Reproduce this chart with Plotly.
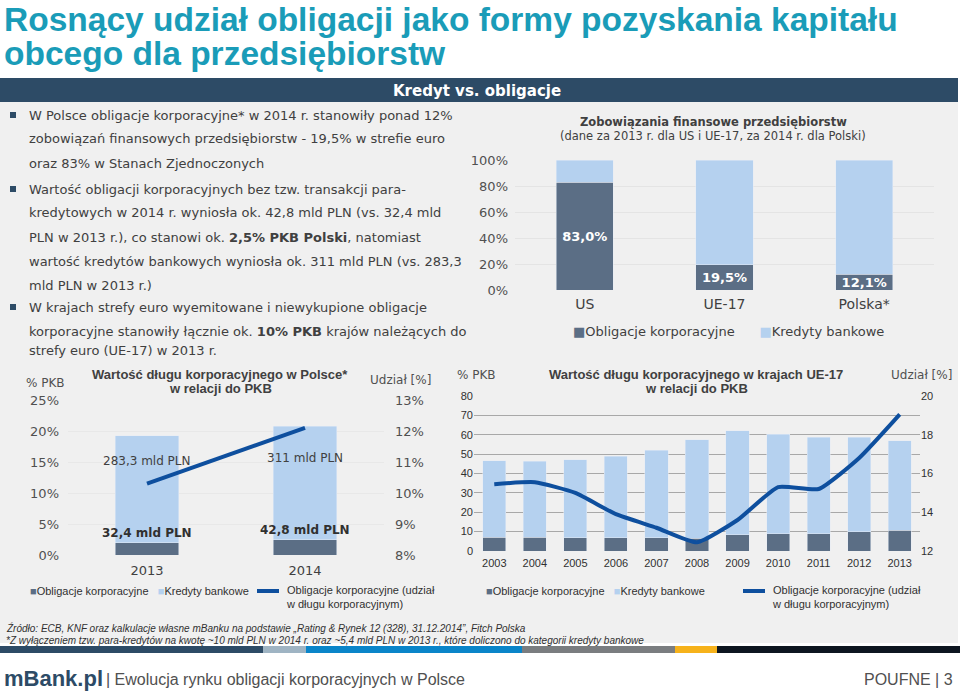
import plotly.graph_objects as go

W, H = 960, 694
def px(x): return x / W
def py(y): return 1 - y / H

# --- data ---
c1_cats = ["US", "UE-17", "Polska*"]
c1_bonds = [83.0, 19.5, 12.1]
c1_loans = [17.0, 80.5, 87.9]
c1_labels = ["83,0%", "19,5%", "12,1%"]

c2_years = ["2013", "2014"]
c2_bonds = [2.0, 2.5]
c2_loans = [17.2, 18.3]
c2_share = [10.3, 12.1]
c2_loan_labels = ["283,3 mld PLN", "311 mld PLN"]
c2_bond_labels = ["32,4 mld PLN", "42,8 mld PLN"]

c3_years = ["2003", "2004", "2005", "2006", "2007", "2008", "2009", "2010", "2011", "2012", "2013"]
c3_bonds = [7.0, 7.0, 6.8, 6.8, 6.8, 6.5, 8.3, 9.0, 8.8, 10.0, 10.8]
c3_total = [46.5, 46.3, 47.0, 49.0, 52.0, 57.5, 62.0, 60.3, 58.7, 58.8, 57.0]
c3_loans = [t - b for t, b in zip(c3_total, c3_bonds)]
c3_share = [15.45, 15.55, 15.0, 13.9, 13.2, 12.45, 13.6, 15.3, 15.2, 16.8, 19.05]

C_B = "#5b6e85"
C_L = "#b5d1ef"
C_LINE = "#0e4f9e"
FONT = "DejaVu Sans"
TF = "Liberation Sans"

fig = go.Figure()
fig.add_bar(x=c1_cats, y=c1_bonds, marker_color=C_B, text=c1_labels, textposition="inside",
            insidetextanchor="middle", constraintext="none", textfont=dict(color="white", size=13, family=FONT),
            texttemplate="<b>%{text}</b>", xaxis="x", yaxis="y", showlegend=False, width=0.41)
fig.add_bar(x=c1_cats, y=c1_loans, marker_color=C_L, xaxis="x", yaxis="y", showlegend=False, hoverinfo="skip", width=0.41)
fig.add_bar(x=c2_years, y=c2_bonds, marker_color=C_B, xaxis="x2", yaxis="y2", showlegend=False, width=0.4)
fig.add_bar(x=c2_years, y=c2_loans, marker_color=C_L, xaxis="x2", yaxis="y2", showlegend=False, width=0.4)
fig.add_scatter(x=c2_years, y=c2_share, mode="lines", line=dict(color=C_LINE, width=4),
                xaxis="x2", yaxis="y3", showlegend=False)
fig.add_bar(x=c3_years, y=c3_bonds, marker_color=C_B, xaxis="x3", yaxis="y4", showlegend=False, width=0.57)
fig.add_bar(x=c3_years, y=c3_loans, marker_color=C_L, xaxis="x3", yaxis="y4", showlegend=False, width=0.57)
fig.add_scatter(x=c3_years, y=c3_share, mode="lines", line=dict(color=C_LINE, width=4, shape="spline", smoothing=0.5),
                xaxis="x3", yaxis="y5", showlegend=False)

axcommon = dict(showline=False, zeroline=False, ticks="")
fig.update_layout(
    width=W, height=H, margin=dict(l=0, r=0, t=0, b=0, autoexpand=False), barmode="stack",
    uniformtext=dict(minsize=13, mode="show"),
    paper_bgcolor="white", plot_bgcolor="rgba(0,0,0,0)", font=dict(family=FONT, color="#404040"),
    xaxis=dict(type="category", categoryarray=c1_cats, range=[-0.5, 2.5], domain=[px(515), px(934)], anchor="y",
               showgrid=False, tickfont=dict(size=14, color="#404040"), ticklabelstandoff=4, **axcommon),
    yaxis=dict(domain=[py(290), py(160)], anchor="x", range=[0, 100], tickvals=[0, 20, 40, 60, 80, 100],
               ticktext=["0%", "20%", "40%", "60%", "80%", "100%"], ticklabelstandoff=6,
               gridcolor="#e4e4e4", tickfont=dict(size=13, color="#505050"), **axcommon),
    xaxis2=dict(type="category", categoryarray=c2_years, range=[-0.5, 1.5], domain=[px(68), px(384)], anchor="y2",
                showgrid=False, tickfont=dict(size=13, color="#404040"), ticklabelstandoff=6, **axcommon),
    yaxis2=dict(domain=[py(555), py(400)], anchor="x2", range=[0, 25], tickvals=[0, 5, 10, 15, 20, 25],
                ticktext=["0%", "5%", "10%", "15%", "20%", "25%"],
                gridcolor="#e8e8e8", tickfont=dict(size=13, color="#505050"), ticklabelstandoff=8, **axcommon),
    yaxis3=dict(overlaying="y2", side="right", range=[8, 13], tickvals=[8, 9, 10, 11, 12, 13],
                ticktext=["8%", "9%", "10%", "11%", "12%", "13%"], showgrid=False,
                anchor="x2", tickfont=dict(size=13, color="#505050"), ticklabelstandoff=10, **axcommon),
    xaxis3=dict(type="category", categoryarray=c3_years, range=[-0.5, 10.5], domain=[px(474), px(920)], anchor="y4",
                showgrid=False, tickfont=dict(size=11, color="#303030", family=TF), ticklabelstandoff=4, **axcommon),
    yaxis4=dict(domain=[py(551), py(396)], anchor="x3", range=[0, 80], dtick=10, gridcolor="#a8a8a8",
                tickfont=dict(size=11, color="#303030", family=TF), **axcommon),
    yaxis5=dict(overlaying="y4", side="right", range=[12, 20], dtick=2, showgrid=False, anchor="x3",
                tickfont=dict(size=11, color="#303030", family=TF), **axcommon),
)

shapes = []
ann = []
shapes.append(dict(type="rect", xref="paper", yref="paper", x0=0, x1=px(958), y0=py(643), y1=py(78),
                   fillcolor="#f0f0f0", line_width=0, layer="below"))
shapes.append(dict(type="rect", xref="paper", yref="paper", x0=0, x1=px(958), y0=py(102), y1=py(78),
                   fillcolor="#2d4b66", line_width=0, layer="below"))
ann.append(dict(x=px(477), y=py(91), text="<b>Kredyt vs. obligacje</b>", font=dict(size=15, color="white")))
ann.append(dict(x=px(2), y=py(19), xanchor="left", text="<b>Rosnący udział obligacji jako formy pozyskania kapitału</b>",
                font=dict(size=33.5, color="#1a9cb8", family=TF)))
ann.append(dict(x=px(2), y=py(53), xanchor="left", text="<b>obcego dla przedsiębiorstw</b>",
                font=dict(size=33.5, color="#1a9cb8", family=TF)))
lines = [
    (115, "W Polsce obligacje korporacyjne* w 2014 r. stanowiły ponad 12%", True),
    (139, "zobowiązań finansowych przedsiębiorstw - 19,5% w strefie euro", False),
    (163, "oraz 83% w Stanach Zjednoczonych", False),
    (189, "Wartość obligacji korporacyjnych bez tzw. transakcji para-", True),
    (213, "kredytowych w 2014 r. wyniosła ok. 42,8 mld PLN (vs. 32,4 mld", False),
    (237, "PLN w 2013 r.), co stanowi ok. <b>2,5% PKB Polski</b>, natomiast", False),
    (261, "wartość kredytów bankowych wyniosła ok. 311 mld PLN (vs. 283,3", False),
    (285, "mld PLN w 2013 r.)", False),
    (307, "W krajach strefy euro wyemitowane i niewykupione obligacje", True),
    (331, "korporacyjne stanowiły łącznie ok. <b>10% PKB</b> krajów należących do", False),
    (350, "strefy euro (UE-17) w 2013 r.", False),
]
for y, t, b in lines:
    ann.append(dict(x=px(27), y=py(y), xanchor="left", text=t, font=dict(size=13, color="#404040")))
    if b:
        shapes.append(dict(type="rect", xref="paper", yref="paper", x0=px(10), x1=px(16), y0=py(y + 3), y1=py(y - 3),
                           fillcolor="#2d4b66", line_width=0))
ann.append(dict(x=px(713), y=py(122), text="<b>Zobowiązania finansowe przedsiębiorstw</b>", font=dict(size=11.5, color="#404040")))
ann.append(dict(x=px(713), y=py(136), text="(dane za 2013 r. dla US i UE-17, za 2014 r. dla Polski)", font=dict(size=11.5, color="#404040")))
ann.append(dict(x=px(571), y=py(331), xanchor="left",
                text=f"<span style='color:{C_B}'>■</span>Obligacje korporacyjne      <span style='color:{C_L}'>■</span>Kredyty bankowe",
                font=dict(size=13, color="#404040")))
ann.append(dict(x=px(220), y=py(374), text="<b>Wartość długu korporacyjnego w Polsce*</b>", font=dict(size=13, color="#404040", family=TF)))
ann.append(dict(x=px(220), y=py(388), text="<b>w relacji do PKB</b>", font=dict(size=13, color="#404040", family=TF)))
ann.append(dict(x=px(45), y=py(383), text="% PKB", font=dict(size=12, color="#505050")))
ann.append(dict(x=px(400), y=py(380), text="Udział [%]", font=dict(size=12, color="#505050")))
for i, (y, t) in enumerate(zip([15.2, 15.6], c2_loan_labels)):
    ann.append(dict(x=i, y=y, xref="x2", yref="y2", text=t, font=dict(size=12, color="#404040")))
for i, (y, t) in enumerate(zip([3.5, 4.0], c2_bond_labels)):
    ann.append(dict(x=i, y=y, xref="x2", yref="y2", text=f"<b>{t}</b>", font=dict(size=12, color="#303030")))
ann.append(dict(x=px(696), y=py(374), text="<b>Wartość długu korporacyjnego w krajach UE-17</b>", font=dict(size=13, color="#404040", family=TF)))
ann.append(dict(x=px(696), y=py(388), text="<b>w relacji do PKB</b>", font=dict(size=13, color="#404040", family=TF)))
ann.append(dict(x=px(476), y=py(375), text="% PKB", font=dict(size=12, color="#505050")))
ann.append(dict(x=px(921), y=py(375), text="Udział [%]", font=dict(size=12, color="#505050")))
for x0, lx in [(28, 257), (484, 743)]:
    ann.append(dict(x=px(x0), y=py(591), xanchor="left",
                    text=f"<span style='color:{C_B}'>■</span>Obligacje korporacyjne   <span style='color:{C_L}'>■</span>Kredyty bankowe",
                    font=dict(size=11, color="#303030", family=TF)))
    shapes.append(dict(type="line", xref="paper", yref="paper", x0=px(lx), x1=px(lx + 22), y0=py(591), y1=py(591),
                       line=dict(color=C_LINE, width=4)))
    ann.append(dict(x=px(lx + 27), y=py(597), xanchor="left",
                    text="Obligacje korporacyjne (udział<br>w długu korporacyjnym)", align="left",
                    font=dict(size=11, color="#303030", family=TF)))
ann.append(dict(x=px(4), y=py(628), xanchor="left", font=dict(size=10, color="#303030", family=TF),
                text="<i>Źródło: ECB, KNF oraz kalkulacje własne mBanku na podstawie „Rating & Rynek 12 (328), 31.12.2014”, Fitch Polska</i>"))
ann.append(dict(x=px(4), y=py(640), xanchor="left", font=dict(size=10, color="#303030", family=TF),
                text="<i>*Z wyłączeniem tzw. para-kredytów na kwotę ~10 mld PLN w 2014 r. oraz ~5,4 mld PLN w 2013 r., które doliczono do kategorii kredyty bankowe</i>"))
for a, b, c in [(0, 263, "#2d4b66"), (263, 306, "#9fb4c3"), (306, 522, "#0a85c9"), (522, 675, "#7a7d80"),
                (675, 717, "#f6b21b"), (717, 960, "#0d1620")]:
    shapes.append(dict(type="rect", xref="paper", yref="paper", x0=px(a), x1=px(b), y0=py(653), y1=py(646),
                       fillcolor=c, line_width=0))
ann.append(dict(x=px(2), y=py(678), xanchor="left", text="<b>mBank.pl</b>", font=dict(size=22, color="#2d4b66", family=TF)))
ann.append(dict(x=px(104), y=py(679), xanchor="left", text="| Ewolucja rynku obligacji korporacyjnych w Polsce",
                font=dict(size=16, color="#505050", family=TF)))
ann.append(dict(x=px(955), y=py(679), xanchor="right", text="POUFNE | 3", font=dict(size=16, color="#505050", family=TF)))

for a in ann:
    a.setdefault("xref", "paper"); a.setdefault("yref", "paper"); a["showarrow"] = False
    a.setdefault("xanchor", "center"); a.setdefault("yanchor", "middle")
fig.update_layout(shapes=shapes, annotations=ann)
fig.write_html("out.html", config={"displayModeBar": False},
               post_script="document.body.style.margin='0';document.body.style.overflow='hidden';")
